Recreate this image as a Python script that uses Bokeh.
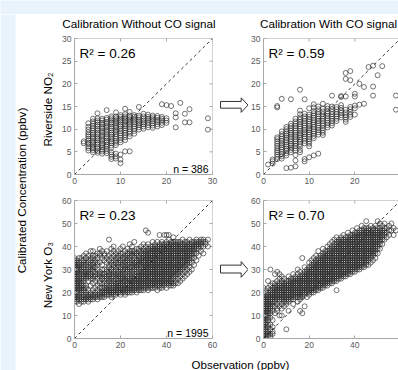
from math import pi
from bokeh.plotting import figure
from bokeh.layouts import row, column
from bokeh.models import Range1d, FixedTicker, Label, Span
from bokeh.embed import file_html
from bokeh.resources import INLINE
from bokeh.core.properties import value

# ---------------- data ----------------
col_titles = ["Calibration Without CO signal", "Calibration With CO signal"]
row_labels = ["Riverside NO\u2082", "New York O\u2083"]
y_title = "Calibrated Concentration (ppbv)"
x_title = "Observation (ppbv)"
r2_values = [0.26, 0.59, 0.23, 0.70]
n_values = [386, 1995]
no2_ticks_x = [0, 10, 20, 30]
no2_ticks_y = [0, 5, 10, 15, 20, 25, 30]
o3_ticks_x = [0, 20, 40, 60]
o3_ticks_y = [0, 10, 20, 30, 40, 50, 60]

# Riverside NO2, without CO signal: observation columns and calibrated values
riverside_obs_a = [2, 3, 4, 5, 6, 7, 8, 9, 10, 11, 12, 13, 14, 15, 16, 17, 18, 19, 20, 21, 22, 23, 24, 25, 29]
riverside_cal_a = [
    [6.9, 7.3],
    [5.3, 5.8, 6.2, 6.7, 7.0, 7.5, 7.9, 8.4, 8.8, 9.3, 9.9, 10.5, 11.3],
    [4.9, 5.4, 5.8, 6.1, 6.6, 7.0, 7.4, 7.9, 8.3, 8.8, 9.2, 9.7, 10.2, 10.7, 11.2, 11.7, 12.3],
    [4.8, 5.2, 5.7, 6.1, 6.6, 7.0, 7.5, 7.9, 8.3, 8.8, 9.2, 9.7, 10.1, 10.6, 11.0, 11.5, 11.9, 12.4, 13.5],
    [4.6, 5.1, 5.5, 6.0, 6.5, 6.9, 7.4, 7.8, 8.3, 8.7, 9.2, 9.6, 10.1, 10.5, 11.0, 11.4, 11.9, 12.3],
    [4.7, 5.2, 5.6, 6.1, 6.6, 7.1, 7.5, 8.0, 8.4, 8.9, 9.4, 9.8, 10.3, 10.7, 11.2, 11.6, 12.1, 12.5, 14.2],
    [3.4, 3.9, 4.4, 4.9, 5.9, 6.4, 6.9, 7.3, 7.8, 8.3, 8.8, 9.2, 9.7, 10.2, 10.6, 11.1, 11.5, 12.0, 12.4, 12.8],
    [3.5, 4.0, 4.6, 6.5, 7.0, 7.4, 7.9, 8.4, 8.9, 9.4, 9.8, 10.3, 10.7, 11.2, 11.6, 12.0, 12.4, 12.8, 13.7],
    [2.5, 3.3, 4.4, 7.1, 7.6, 8.1, 8.6, 9.1, 9.6, 10.1, 10.6, 11.0, 11.5, 11.9, 12.3, 12.7, 13.1],
    [5.1, 7.6, 8.2, 8.7, 9.2, 9.7, 10.2, 10.7, 11.1, 11.6, 12.0, 12.4, 12.8, 13.3, 14.5],
    [5.1, 8.4, 9.0, 9.5, 10.0, 10.5, 11.0, 11.4, 11.8, 12.2, 12.6, 13.0, 13.8],
    [9.0, 9.6, 10.1, 10.6, 11.1, 11.5, 11.9, 12.3, 12.7, 13.1],
    [9.9, 10.4, 10.9, 11.3, 11.7, 12.1, 12.6, 13.0, 14.9],
    [10.1, 10.6, 11.1, 11.5, 11.9, 12.3, 12.8, 13.4],
    [10.4, 10.9, 11.4, 11.9, 12.3, 12.7, 13.2],
    [10.3, 10.8, 11.3, 11.8, 12.2, 12.6, 13.0],
    [10.6, 11.1, 11.6, 12.0, 12.5, 12.9],
    [10.9, 11.4, 11.9, 12.3, 12.7, 15.5],
    [11.4, 11.9, 12.4, 15.3],
    [15.1],
    [10.4, 12.6, 13.5],
    [15.8],
    [11.5, 13.4],
    [11.5, 14.4],
    [9.9, 12.4],
]

# Riverside NO2, with CO signal
riverside_obs_b = [1, 2, 3, 4, 5, 6, 7, 8, 9, 10, 11, 12, 13, 14, 15, 16, 17, 18, 19, 20, 21, 22, 23, 24, 25, 26, 29]
riverside_cal_b = [
    [2.2],
    [2.4, 2.9, 3.3],
    [3.4, 3.9, 4.4, 4.9, 5.3, 5.8, 6.3, 6.8, 7.3, 7.8, 8.2, 14.8, 15.1],
    [3.5, 4.0, 4.5, 5.0, 5.5, 6.0, 6.5, 6.9, 7.4, 7.9, 8.4, 8.9, 9.5, 16.7],
    [1.4, 4.2, 4.7, 5.2, 5.7, 6.2, 6.6, 7.1, 7.6, 8.1, 8.6, 9.0, 9.5, 10.0, 10.5],
    [1.5, 4.9, 5.4, 5.9, 6.4, 6.8, 7.3, 7.8, 8.3, 8.8, 9.2, 9.7, 10.2, 10.7, 11.2, 16.6],
    [1.8, 3.1, 4.3, 5.3, 5.8, 6.3, 6.8, 7.3, 7.8, 8.3, 8.7, 9.2, 9.7, 10.2, 10.7, 11.2, 11.7, 12.3],
    [4.9, 5.4, 6.2, 6.7, 7.2, 7.7, 8.2, 8.7, 9.1, 9.6, 10.1, 10.6, 11.1, 11.6, 12.1, 12.6, 13.3, 14.1, 18.7],
    [2.9, 3.4, 6.9, 7.4, 7.9, 8.4, 8.9, 9.3, 9.8, 10.3, 10.8, 11.3, 11.8, 12.3, 12.8, 13.4, 16.6],
    [3.8, 6.2, 6.8, 7.3, 7.8, 8.3, 8.8, 9.3, 9.8, 10.2, 10.7, 11.2, 11.7, 12.2, 12.7, 13.2, 14.6],
    [4.2, 8.0, 8.5, 9.0, 9.5, 10.0, 10.5, 11.0, 11.5, 12.0, 12.5, 13.0, 13.5, 14.0, 14.8, 15.5],
    [4.6, 8.8, 9.3, 9.8, 10.3, 10.8, 11.3, 11.8, 12.3, 12.8, 13.3, 13.8, 14.4, 15.0],
    [8.7, 9.2, 9.7, 10.2, 10.8, 11.3, 11.8, 12.3, 12.8, 13.3, 13.9, 14.5, 15.6],
    [10.4, 10.9, 11.4, 11.9, 12.4, 12.9, 13.4, 13.9, 14.5, 15.1],
    [10.8, 11.3, 11.8, 12.3, 12.8, 13.3, 13.8, 14.4, 15.0, 17.4],
    [11.8, 12.3, 12.8, 13.3, 13.8, 14.4, 14.9],
    [12.6, 13.1, 13.6, 14.1, 14.7, 15.3, 17.1, 17.3],
    [11.6, 12.1, 12.6, 13.1, 13.7, 14.3, 17.2, 21.1, 22.4],
    [12.7, 13.2, 13.8, 14.4, 14.9, 20.8, 22.8],
    [13.2, 14.6, 15.2, 17.2, 17.8],
    [15.4, 20.0],
    [15.6, 19.3],
    [23.7],
    [17.4, 19.4, 24.0],
    [21.9],
    [23.9],
    [14.3, 17.4],
]

# New York O3, without CO signal
newyork_obs_a = [0, 1, 2, 3, 4, 5, 6, 7, 8, 9, 10, 11, 12, 13, 14, 15, 16, 17, 18, 19,
                 20, 21, 22, 23, 24, 25, 26, 27, 28, 29, 30, 31, 32, 33, 34, 35, 36, 37, 38, 39,
                 40, 41, 42, 43, 44, 45, 46, 47, 48, 49, 50, 51, 52, 53, 54, 55, 56, 57, 58]
newyork_cal_a = [
    [16, 17, 18, 19, 20, 21, 22, 23, 24, 25, 26, 27, 28, 29, 30, 31, 32, 33, 34, 35],
    [16, 17, 18, 19, 20, 21, 22, 23, 24, 25, 26, 27, 28, 29, 30, 31, 32, 33, 34],
    [15, 17, 18, 19, 20, 21, 22, 23, 24, 25, 26, 27, 28, 29, 30, 31, 32, 33, 35],
    [16, 17, 18, 20, 21, 22, 23, 24, 25, 26, 28, 29, 30, 31, 32, 34, 35],
    [16, 17, 18, 19, 21, 22, 23, 25, 26, 27, 28, 29, 31, 32, 33, 34, 36],
    [17, 18, 19, 20, 22, 23, 26, 27, 28, 29, 30, 32, 33, 35, 37],
    [16, 17, 18, 19, 21, 25, 27, 28, 29, 30, 31, 33, 34, 36],
    [17, 18, 19, 20, 23, 26, 27, 28, 30, 31, 32, 34, 35, 38],
    [17, 18, 19, 21, 24, 26, 27, 29, 30, 31, 32, 33, 35, 36, 38],
    [18, 19, 20, 22, 25, 27, 28, 29, 31, 33, 34, 36],
    [17, 18, 19, 21, 23, 26, 28, 30, 32, 33, 35, 37],
    [18, 19, 20, 22, 24, 25, 27, 28, 29, 33, 36, 37, 39],
    [18, 19, 20, 21, 22, 24, 26, 27, 28, 30, 32, 35, 38],
    [18, 19, 20, 21, 22, 24, 25, 27, 28, 30, 34, 36, 37],
    [19, 20, 21, 22, 23, 24, 26, 27, 29, 30, 33, 35, 38],
    [19, 20, 21, 22, 23, 25, 26, 27, 28, 29, 31, 32, 34, 36, 43],
    [18, 19, 20, 21, 22, 24, 25, 26, 28, 29, 30, 32, 33, 35, 37, 39],
    [19, 20, 21, 22, 23, 24, 25, 27, 28, 29, 31, 32, 34, 36, 38, 40],
    [19, 20, 21, 22, 23, 24, 26, 27, 28, 30, 31, 33, 34, 35, 37],
    [20, 21, 22, 23, 24, 25, 26, 27, 28, 29, 31, 32, 33, 35, 36, 38],
    [19, 20, 21, 22, 23, 24, 25, 26, 28, 29, 30, 31, 33, 34, 36, 37, 39],
    [20, 21, 22, 23, 24, 25, 26, 27, 28, 29, 30, 32, 33, 34, 35, 37, 40],
    [19, 20, 21, 22, 23, 25, 26, 27, 28, 30, 31, 32, 33, 35, 36, 38],
    [20, 21, 22, 23, 24, 25, 26, 27, 29, 30, 31, 32, 34, 35, 36, 37, 39],
    [20, 21, 22, 23, 24, 25, 26, 28, 29, 30, 31, 33, 34, 35, 37, 38, 41],
    [20, 21, 22, 23, 24, 25, 26, 27, 28, 29, 31, 32, 33, 34, 36, 37, 38, 40],
    [21, 22, 23, 24, 25, 26, 27, 28, 30, 31, 32, 33, 35, 36, 37, 38, 42],
    [20, 21, 22, 23, 24, 25, 26, 27, 29, 30, 31, 32, 33, 34, 36, 37, 39],
    [21, 22, 23, 24, 25, 26, 27, 28, 29, 30, 32, 33, 34, 35, 36, 38, 39],
    [21, 22, 23, 24, 25, 26, 27, 28, 29, 31, 32, 33, 34, 35, 37, 38, 40],
    [21, 22, 23, 24, 25, 26, 27, 28, 29, 30, 31, 32, 33, 34, 35, 36, 37, 38, 39, 41],
    [22, 23, 24, 25, 26, 27, 28, 29, 30, 31, 32, 33, 34, 35, 36, 37, 38, 40, 47],
    [21, 22, 23, 24, 25, 26, 27, 28, 29, 30, 31, 32, 33, 34, 35, 36, 37, 38, 39, 41, 46],
    [22, 23, 24, 25, 26, 27, 28, 29, 30, 31, 32, 33, 34, 35, 36, 37, 38, 39, 40],
    [22, 23, 24, 25, 26, 27, 28, 29, 30, 31, 32, 33, 34, 35, 36, 37, 38, 39, 40, 42],
    [22, 23, 24, 25, 26, 27, 28, 29, 30, 31, 32, 33, 34, 35, 36, 37, 38, 39, 40, 41],
    [21, 23, 24, 25, 26, 27, 28, 29, 30, 31, 32, 33, 34, 35, 36, 37, 38, 39, 40, 42],
    [22, 23, 24, 25, 26, 27, 28, 29, 30, 31, 32, 33, 34, 35, 36, 37, 38, 39, 40, 41, 45],
    [22, 23, 24, 25, 26, 27, 28, 29, 30, 31, 32, 33, 34, 35, 36, 37, 38, 39, 40, 41, 42],
    [23, 24, 25, 26, 27, 28, 29, 30, 31, 32, 33, 34, 35, 36, 37, 38, 39, 40, 41, 45],
    [22, 24, 25, 26, 27, 28, 29, 30, 31, 32, 33, 34, 35, 36, 37, 38, 39, 40, 41, 42, 45],
    [23, 24, 25, 26, 27, 28, 29, 30, 31, 32, 33, 34, 35, 36, 37, 38, 39, 40, 41, 43, 45],
    [23, 24, 25, 26, 27, 28, 29, 30, 31, 32, 33, 34, 35, 36, 37, 38, 39, 40, 41, 42],
    [23, 24, 26, 27, 28, 29, 30, 31, 32, 33, 34, 35, 36, 37, 38, 39, 40, 41, 42, 44],
    [24, 25, 27, 28, 29, 30, 31, 32, 33, 34, 35, 36, 37, 38, 39, 40, 41, 42],
    [24, 26, 28, 29, 30, 31, 32, 33, 34, 35, 36, 37, 38, 39, 40, 41, 42],
    [25, 27, 29, 30, 31, 32, 33, 34, 35, 36, 37, 38, 39, 40, 41, 42],
    [26, 28, 30, 31, 32, 33, 34, 35, 36, 37, 38, 39, 40, 41, 43],
    [27, 29, 31, 32, 33, 34, 35, 36, 37, 38, 39, 40, 41, 42],
    [28, 30, 32, 33, 34, 35, 36, 37, 38, 39, 40, 41, 42],
    [29, 31, 33, 34, 35, 36, 37, 38, 39, 40, 41, 43],
    [30, 33, 35, 36, 37, 38, 39, 40, 41, 42],
    [32, 35, 37, 38, 39, 40, 41, 42],
    [34, 37, 39, 40, 41, 42, 43],
    [36, 39, 40, 41, 42],
    [38, 40, 41, 42, 43],
    [37, 40, 42, 43],
    [41, 42],
    [40, 43],
]

# New York O3, with CO signal
newyork_obs_b = [0, 1, 2, 3, 4, 5, 6, 7, 8, 9, 10, 11, 12, 13, 14, 15, 16, 17, 18, 19,
                 20, 21, 22, 23, 24, 25, 26, 27, 28, 29, 30, 31, 32, 33, 34, 35, 36, 37, 38, 39,
                 40, 41, 42, 43, 44, 45, 46, 47, 48, 49, 50, 51, 52, 53, 54, 55, 56, 57, 58]
newyork_cal_b = [
    [0, 1, 2, 3, 4, 5, 6, 7, 8, 9, 10, 11, 12, 13, 14, 15, 16, 17, 18, 19, 20, 22],
    [0, 1, 2, 3, 4, 5, 6, 7, 8, 9, 10, 11, 12, 13, 14, 15, 16, 17, 18, 19, 21],
    [1, 2, 3, 5, 6, 8, 9, 10, 11, 12, 13, 14, 15, 16, 17, 18, 19, 20, 22, 25],
    [1, 2, 4, 6, 9, 11, 12, 13, 14, 15, 16, 17, 18, 19, 20, 21, 23, 30],
    [2, 3, 5, 8, 12, 14, 15, 16, 17, 18, 19, 20, 21, 22, 24],
    [11, 14, 16, 17, 18, 19, 20, 21, 22, 23, 24, 28],
    [12, 13, 15, 17, 18, 19, 20, 21, 22, 23, 25, 29],
    [10, 14, 16, 17, 18, 19, 20, 21, 22, 23, 24, 26, 28],
    [10, 13, 15, 17, 18, 19, 20, 21, 22, 23, 24, 25, 27],
    [14, 16, 17, 18, 19, 20, 21, 22, 23, 24, 26],
    [4, 15, 16, 17, 18, 19, 20, 21, 22, 23, 24, 25],
    [12, 16, 17, 18, 19, 20, 21, 22, 23, 24, 25, 27],
    [17, 18, 19, 20, 21, 22, 23, 24, 25, 26],
    [15, 17, 18, 19, 20, 21, 22, 23, 24, 25, 26, 28],
    [18, 19, 20, 21, 22, 23, 24, 25, 26, 27],
    [16, 18, 19, 20, 21, 22, 23, 24, 25, 26, 28, 30],
    [12, 17, 18, 19, 20, 21, 22, 23, 24, 25, 26, 27, 29],
    [11, 18, 19, 20, 21, 22, 23, 24, 25, 26, 27, 28, 35],
    [14, 19, 20, 21, 22, 23, 24, 25, 26, 27, 28, 29, 31],
    [18, 20, 21, 22, 23, 24, 25, 26, 27, 28, 29, 30],
    [19, 20, 21, 22, 23, 24, 25, 26, 27, 28, 29, 30, 31, 33],
    [20, 21, 22, 23, 24, 25, 26, 27, 28, 29, 30, 31, 32, 34],
    [20, 21, 22, 23, 24, 25, 26, 27, 28, 29, 30, 31, 32, 33, 35],
    [21, 22, 23, 24, 25, 26, 27, 28, 29, 30, 31, 32, 33, 34, 36],
    [21, 22, 23, 24, 25, 26, 27, 28, 29, 30, 31, 32, 33, 34, 35, 38],
    [22, 23, 24, 25, 26, 27, 28, 29, 30, 31, 32, 33, 34, 35, 36],
    [22, 23, 24, 25, 26, 27, 28, 29, 30, 31, 32, 33, 34, 35, 36, 37, 39],
    [23, 24, 25, 26, 27, 28, 29, 30, 31, 32, 33, 34, 35, 36, 37, 38],
    [23, 24, 25, 26, 27, 28, 29, 30, 31, 32, 33, 34, 35, 36, 37, 38, 40],
    [24, 25, 26, 27, 28, 29, 30, 31, 32, 33, 34, 35, 36, 37, 38, 39, 41],
    [24, 25, 26, 27, 28, 29, 30, 31, 32, 33, 34, 35, 36, 37, 38, 39, 40, 42],
    [25, 26, 27, 28, 29, 30, 31, 32, 33, 34, 35, 36, 37, 38, 39, 40, 41, 43],
    [21, 25, 26, 27, 28, 29, 30, 31, 32, 33, 34, 35, 36, 37, 38, 39, 40, 41, 42, 44],
    [26, 27, 28, 29, 30, 31, 32, 33, 34, 35, 36, 37, 38, 39, 40, 41, 42, 43],
    [26, 27, 28, 29, 30, 31, 32, 33, 34, 35, 36, 37, 38, 39, 40, 41, 42, 43, 44],
    [27, 28, 29, 30, 31, 32, 33, 34, 35, 36, 37, 38, 39, 40, 41, 42, 43, 45],
    [27, 28, 29, 30, 31, 32, 33, 34, 35, 36, 37, 38, 39, 40, 41, 42, 43, 44],
    [28, 29, 30, 31, 32, 33, 34, 35, 36, 37, 38, 39, 40, 41, 42, 43, 44, 46],
    [28, 29, 30, 31, 32, 33, 34, 35, 36, 37, 38, 39, 40, 41, 42, 43, 44, 45],
    [29, 30, 31, 32, 33, 34, 35, 36, 37, 38, 39, 40, 41, 42, 43, 44, 45, 47],
    [29, 30, 31, 32, 33, 34, 35, 36, 37, 38, 39, 40, 41, 42, 43, 44, 45, 46],
    [30, 31, 32, 33, 34, 35, 36, 37, 38, 39, 40, 41, 42, 43, 44, 45, 46, 48],
    [30, 31, 32, 33, 34, 35, 36, 37, 38, 39, 40, 41, 42, 43, 44, 45, 46, 47],
    [31, 32, 33, 34, 35, 36, 37, 38, 39, 40, 41, 42, 43, 44, 45, 46, 47, 49],
    [31, 32, 33, 34, 35, 36, 37, 38, 39, 40, 41, 42, 43, 44, 45, 46, 47, 48],
    [32, 33, 34, 35, 36, 37, 38, 39, 40, 41, 42, 43, 44, 45, 46, 47, 48, 51],
    [32, 34, 35, 36, 37, 38, 39, 40, 41, 42, 43, 44, 45, 46, 47, 48],
    [33, 35, 36, 37, 38, 39, 40, 41, 42, 43, 44, 45, 46, 47, 49],
    [34, 36, 37, 38, 39, 40, 41, 42, 43, 44, 45, 46, 47, 48],
    [35, 37, 38, 39, 40, 41, 42, 43, 44, 45, 46, 47, 49],
    [37, 39, 40, 41, 42, 43, 44, 45, 46, 47, 48, 51],
    [39, 41, 42, 43, 44, 45, 46, 47, 48, 50],
    [41, 43, 44, 45, 46, 47, 49],
    [43, 45, 46, 47, 48, 50],
    [44, 46, 48],
    [45, 47, 49],
    [47, 50],
    [45, 48],
    [47],
]

# ---------------- styling ----------------
FONT = "Liberation Sans"
BG = "#e8f3fb"
AX = "#a8a8a8"
TICK_TXT = "#5a5a5a"
PT = "#2a2a2a"


def pairs(obs, cols):
    xs, ys = [], []
    for x, col in zip(obs, cols):
        for y in col:
            xs.append(x)
            ys.append(y)
    return xs, ys


def canvas(w, h, bg="white"):
    p = figure(width=w, height=h, x_range=Range1d(0, w), y_range=Range1d(0, h),
               output_backend="svg", toolbar_location=None, min_border=0,
               x_axis_location=None, y_axis_location=None, outline_line_color=None,
               background_fill_color=bg, border_fill_color=bg)
    p.xgrid.visible = False
    p.ygrid.visible = False
    return p


def panel(obs, cols, lim, xticks, yticks, w, h, bl, br, bt, bb, frame_w, closed_right, r2, n=None):
    xs, ys = pairs(obs, cols)
    xmax = lim * frame_w / 138.0
    p = figure(width=w, height=h, x_range=Range1d(0, xmax), y_range=Range1d(0, lim),
               output_backend="svg", toolbar_location=None,
               min_border_left=bl, min_border_right=br, min_border_top=bt, min_border_bottom=bb,
               outline_line_color=None, background_fill_color="white", border_fill_color="white")
    p.xgrid.visible = False
    p.ygrid.visible = False
    for ax, t in ((p.xaxis, xticks), (p.yaxis, yticks)):
        ax.ticker = FixedTicker(ticks=t)
        ax.minor_tick_line_color = None
        ax.major_tick_in = 3
        ax.major_tick_out = 0
        ax.axis_line_color = AX
        ax.major_tick_line_color = AX
        ax.major_label_text_font = FONT
        ax.major_label_text_font_size = "8.5px"
        ax.major_label_text_color = TICK_TXT
        ax.major_label_standoff = 3
    # top border and inward ticks
    p.add_layout(Span(location=lim, dimension="width", line_color=AX, line_width=1))
    p.scatter(x=xticks, y=[lim] * len(xticks), marker="dash", angle=pi / 2, size=6,
              line_color=AX, line_width=1)
    if closed_right:
        p.add_layout(Span(location=lim, dimension="height", line_color=AX, line_width=1))
        p.scatter(x=[lim] * len(yticks), y=yticks, marker="dash", size=6,
                  line_color=AX, line_width=1)
    # 1:1 line
    p.line(x=[0, lim], y=[0, lim], line_color="#222222", line_width=0.9, line_dash="3 3")
    p.scatter(x=xs, y=ys, marker="circle", size=5, fill_color=None,
              line_color=PT, line_width=0.65)
    p.add_layout(Label(x=0, y=lim, x_offset=5, y_offset=-15, text="R\u00b2 = %.2f" % r2,
                       text_font=FONT, text_font_size="13.5px", text_color="black",
                       text_baseline="alphabetic", text_align="left"))
    if n is not None:
        p.add_layout(Label(x=xmax, y=0, x_offset=-4, y_offset=6, text="n = %d" % n,
                           text_font=FONT, text_font_size="10.5px", text_color="black",
                           text_baseline="alphabetic", text_align="right"))
    return p


def arrow_fig(h, body_top, body_bot, head_top, head_bot, tip_y):
    p = canvas(30, h)
    p.patch(x=[2, 22.7, 22.7, 29.5, 22.7, 22.7, 2],
            y=[body_top, body_top, head_top, tip_y, head_bot, body_bot, body_bot],
            fill_color="white", line_color="#333333", line_width=1)
    return p


# top light-blue strip (page y 0-14)
top_strip = canvas(398, 14, bg=BG)

# left label column (page x 0-56, y 14-370); y in figure = 370 - page y
left_col = canvas(56, 356)
left_col.quad(left=[0], right=[15], bottom=[0], top=[356], fill_color=BG, line_color=None)
left_col.text(x=[20.5], y=[180], text=[y_title], angle=pi / 2,
              text_font=value(FONT), text_font_size=value("11.7px"), text_color="black",
              text_align="center", text_baseline="middle")
left_col.text(x=[46.5, 46.5], y=[261, 95.5], text=row_labels, angle=pi / 2,
              text_font=value(FONT), text_font_size=value("11.7px"), text_color="black",
              text_align="center", text_baseline="middle")

# column titles (page y 14-32)
title_row = canvas(342, 18)
title_row.text(x=[82.5, 272], y=[8.7, 8.9], text=col_titles,
               text_font=value(FONT), text_font_size=value("11.7px"), text_color="black",
               text_align="center", text_baseline="alphabetic")

# panels (top row page y 32-194, bottom row page y 194-352)
tl = panel(riverside_obs_a, riverside_cal_a, 30, no2_ticks_x, no2_ticks_y,
           162, 162, 18, 6, 6, 20, 138, True, r2_values[0], n_values[0])
tr = panel(riverside_obs_b, riverside_cal_b, 30, no2_ticks_x, no2_ticks_y,
           150, 162, 14, 0, 6, 20, 136, False, r2_values[1])
bl_ = panel(newyork_obs_a, newyork_cal_a, 60, o3_ticks_x, o3_ticks_y,
            162, 158, 18, 6, 6, 14, 138, True, r2_values[2], n_values[1])
br_ = panel(newyork_obs_b, newyork_cal_b, 60, o3_ticks_x, o3_ticks_y,
            150, 158, 14, 0, 6, 14, 136, False, r2_values[3])

arrow_top = arrow_fig(162, 87, 79, 91.3, 74, 82.7)
arrow_bot = arrow_fig(158, 84, 75, 88, 70, 79)

# x label row (page y 352-370)
xlabel_row = canvas(342, 18)
xlabel_row.text(x=[184], y=[6], text=[x_title],
                text_font=value(FONT), text_font_size=value("11.5px"), text_color="black",
                text_align="center", text_baseline="alphabetic")

layout = column(
    top_strip,
    row(left_col,
        column(title_row,
               row(tl, arrow_top, tr),
               row(bl_, arrow_bot, br_),
               xlabel_row)),
)

open("out.html", "w").write(file_html(layout, INLINE))
